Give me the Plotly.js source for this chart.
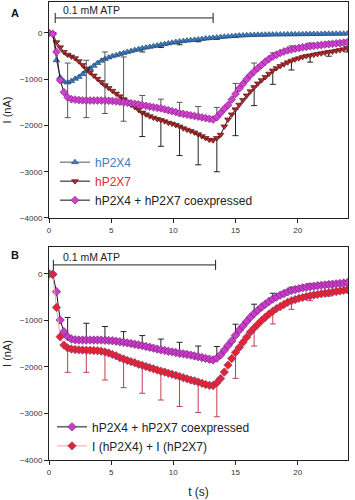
<!DOCTYPE html>
<html><head><meta charset="utf-8">
<script src="https://cdn.plot.ly/plotly-3.0.1.min.js"></script>
<style>html,body{margin:0;padding:0;background:#fff}#chart{width:355px;height:500px}</style>
</head><body><div id="chart"></div>
<script>
// time base (s)
const t = [0,0.3,0.6,0.9,1.2,1.5,1.8,2.1,2.4,2.7,3.0,3.3,3.6,3.9,4.2,4.5,4.8,5.1,5.4,5.7,6.0,6.3,6.6,6.9,7.2,7.5,7.8,8.1,8.4,8.7,9.0,9.3,9.6,9.9,10.2,10.5,10.8,11.1,11.4,11.7,12.0,12.3,12.6,12.9,13.2,13.5,13.8,14.1,14.4,14.7,15.0,15.3,15.6,15.9,16.2,16.5,16.8,17.1,17.4,17.7,18.0,18.3,18.6,18.9,19.2,19.5,19.8,20.1,20.4,20.7,21.0,21.3,21.6,21.9,22.2,22.5,22.8,23.1,23.4,23.7,24.0];

// Panel A
const aP2X4 = [0,-10,-590,-960,-1050,-1070,-1040,-990,-950,-890,-830,-770,-710,-650,-600,-560,-530,-500,-480,-455,-435,-410,-390,-370,-350,-330,-315,-300,-285,-270,-255,-240,-225,-210,-195,-185,-175,-165,-155,-148,-140,-130,-120,-112,-104,-96,-88,-80,-74,-68,-62,-57,-52,-48,-44,-42,-40,-38,-36,-35,-34,-32,-31,-30,-29,-28,-27,-26,-25,-24,-23,-22,-21,-20,-19,-18,-17,-16,-15,-14,-13];
const aP2X7 = [0,-20,-200,-310,-410,-470,-510,-545,-610,-690,-770,-850,-920,-990,-1060,-1130,-1190,-1250,-1310,-1370,-1430,-1490,-1550,-1600,-1660,-1720,-1760,-1800,-1830,-1860,-1880,-1910,-1940,-1960,-1990,-2020,-2060,-2090,-2120,-2150,-2190,-2230,-2270,-2310,-2320,-2270,-2200,-2020,-1870,-1760,-1650,-1550,-1450,-1350,-1260,-1170,-1090,-1020,-950,-880,-810,-760,-715,-675,-635,-600,-570,-545,-520,-500,-485,-470,-455,-440,-425,-412,-400,-385,-370,-350,-325];
const aCoex = [0,-20,-410,-1020,-1280,-1390,-1430,-1440,-1450,-1455,-1460,-1460,-1460,-1460,-1460,-1460,-1465,-1470,-1478,-1488,-1498,-1508,-1520,-1532,-1545,-1560,-1575,-1590,-1605,-1618,-1630,-1650,-1670,-1690,-1710,-1735,-1750,-1765,-1780,-1795,-1810,-1825,-1840,-1855,-1870,-1820,-1730,-1640,-1560,-1440,-1320,-1200,-1100,-1000,-910,-830,-760,-690,-620,-560,-510,-470,-430,-400,-375,-355,-340,-325,-310,-298,-288,-278,-268,-260,-250,-242,-234,-226,-218,-210,-200];

// error bars (SEM) at these times
const barT = [1.5,3,4.5,6,7.5,9,10.5,12,13.5,15,16.5,18,19.5,21,22.5,24];
const aCoexErrPlus  = [740,870,1050,980,210,200,235,220,210,230,180,80,75,70,45,40];
const aCoexErrMinus = [440,370,280,410,0,0,0,0,0,0,0,0,0,0,0,0];
const aP2X7ErrMinus = [NaN,NaN,NaN,NaN,520,570,630,660,730,570,400,300,200,145,90,85];
const aP2X4ErrMinus = [NaN,NaN,NaN,NaN,80,60,70,50,40,30,20,15,12,10,10,10];

// Panel B
const bCoex = [0,-5,-380,-990,-1240,-1350,-1400,-1415,-1420,-1420,-1420,-1420,-1420,-1420,-1422,-1426,-1430,-1436,-1445,-1457,-1468,-1482,-1497,-1512,-1527,-1540,-1560,-1578,-1595,-1615,-1632,-1648,-1662,-1675,-1690,-1705,-1718,-1730,-1745,-1762,-1780,-1798,-1815,-1832,-1848,-1810,-1740,-1640,-1540,-1440,-1320,-1210,-1120,-1020,-930,-850,-780,-710,-650,-590,-540,-495,-455,-420,-385,-355,-335,-315,-298,-285,-273,-263,-253,-244,-236,-228,-220,-212,-204,-196,-188];
const bSum = [0,-10,-720,-1350,-1530,-1590,-1615,-1625,-1632,-1636,-1640,-1642,-1645,-1650,-1660,-1675,-1700,-1730,-1760,-1800,-1830,-1860,-1885,-1910,-1940,-1965,-1990,-2015,-2040,-2065,-2090,-2110,-2135,-2155,-2180,-2205,-2230,-2255,-2280,-2300,-2325,-2350,-2375,-2395,-2400,-2340,-2250,-2110,-1960,-1820,-1690,-1580,-1470,-1360,-1250,-1160,-1080,-1000,-930,-860,-800,-745,-700,-655,-610,-575,-550,-525,-505,-485,-468,-453,-440,-427,-415,-402,-390,-378,-365,-352,-340];
const bCoexErrPlus = [415,360,296,228,215,232,235,230,250,240,200,125,70,58,48,38];
const bSumErrMinus = [525,475,605,615,600,620,645,655,730,555,390,275,185,107,73,60];

const seriesNames = {
  a4: '<span style="color:#3d7cc0">hP2X4</span>',
  a7: '<span style="color:#e0283a">hP2X7</span>',
  aC: 'hP2X4 + hP2X7 coexpressed',
  bC: 'hP2X4 + hP2X7 coexpressed',
  bS: 'I (hP2X4) + I (hP2X7)'
};

function spread(vals) {
  return t.map(function (tt) {
    const k = barT.findIndex(function (b) { return Math.abs(b - tt) < 1e-6; });
    return k < 0 ? NaN : vals[k];
  });
}
const zeros = barT.map(function () { return 0; });

const FONT = 'Arial, "Liberation Sans", sans-serif';

const traces = [
  {x: t, y: aP2X4, xaxis: 'x', yaxis: 'y', mode: 'lines+markers', name: seriesNames.a4, legend: 'legend',
   line: {color: '#555', width: 1},
   marker: {symbol: 'triangle-up', size: 6, color: '#3d7cc0', line: {color: '#1d3f6a', width: 0.6}},
   error_y: {type: 'data', symmetric: false, array: spread(zeros), arrayminus: spread(aP2X4ErrMinus), color: '#222', thickness: 1, width: 3}},
  {x: t, y: aP2X7, xaxis: 'x', yaxis: 'y', mode: 'lines+markers', name: seriesNames.a7, legend: 'legend',
   line: {color: '#111', width: 1},
   marker: {symbol: 'triangle-down', size: 6, color: '#b0282a', line: {color: '#4a0c0c', width: 0.6}},
   error_y: {type: 'data', symmetric: false, array: spread(zeros), arrayminus: spread(aP2X7ErrMinus), color: '#222', thickness: 1, width: 3}},
  {x: t, y: aCoex, xaxis: 'x', yaxis: 'y', mode: 'lines+markers', name: seriesNames.aC, legend: 'legend',
   line: {color: '#111', width: 1},
   marker: {symbol: 'diamond', size: 6, color: '#d23fd2', line: {color: '#6a1a6a', width: 0.6}},
   error_y: {type: 'data', symmetric: false, array: spread(aCoexErrPlus), arrayminus: spread(aCoexErrMinus), color: '#555', thickness: 1, width: 3}},
  {x: t, y: bCoex, xaxis: 'x2', yaxis: 'y2', mode: 'lines+markers', name: seriesNames.bC, legend: 'legend2',
   line: {color: '#111', width: 1},
   marker: {symbol: 'diamond', size: 6.5, color: '#cc3acc', line: {color: '#5a1a5a', width: 0.6}},
   error_y: {type: 'data', symmetric: false, array: spread(bCoexErrPlus), arrayminus: spread(zeros), color: '#222', thickness: 1, width: 3}},
  {x: t, y: bSum, xaxis: 'x2', yaxis: 'y2', mode: 'lines+markers', name: seriesNames.bS, legend: 'legend2',
   line: {color: '#f2a4ac', width: 1},
   marker: {symbol: 'diamond', size: 6.5, color: '#e8232d', line: {color: '#6a3a8c', width: 0.6}},
   error_y: {type: 'data', symmetric: false, array: spread(zeros), arrayminus: spread(bSumErrMinus), color: '#c04050', thickness: 1, width: 3}}
];

const xCommon = {range: [0, 24.05], tickvals: [0,5,10,15,20], ticks: 'outside', ticklen: 4, tickcolor: '#222',
  showline: true, linecolor: '#222', linewidth: 1, mirror: true, showgrid: false, zeroline: false,
  tickfont: {family: FONT, size: 8, color: '#333'}};
const yCommon = {tickvals: [-4000,-3000,-2000,-1000,0], ticks: 'outside', ticklen: 4, tickcolor: '#222',
  showline: true, linecolor: '#222', linewidth: 1, mirror: true, showgrid: false, zeroline: false,
  tickfont: {family: FONT, size: 8, color: '#333'},
  title: {text: 'I (nA)', font: {family: FONT, size: 11, color: '#222'}, standoff: 6}};

const layout = {
  width: 355, height: 500,
  margin: {l: 49, r: 7, t: 2, b: 40},
  paper_bgcolor: '#fff', plot_bgcolor: '#fff',
  font: {family: FONT, color: '#222'},
  xaxis: Object.assign({}, xCommon, {anchor: 'y', domain: [0, 1]}),
  yaxis: Object.assign({}, yCommon, {domain: [0.5284, 1], range: [-4000, 670]}),
  xaxis2: Object.assign({}, xCommon, {anchor: 'y2', domain: [0, 1],
    title: {text: 't (s)', font: {family: FONT, size: 12, color: '#222'}, standoff: 12}}),
  yaxis2: Object.assign({}, yCommon, {domain: [0, 0.4651], range: [-4000, 580]}),
  legend: {x: 0.02, y: 0.682, xanchor: 'left', yanchor: 'top', bgcolor: 'rgba(0,0,0,0)',
    font: {family: FONT, size: 12, color: '#222'}, tracegroupgap: 0},
  legend2: {x: 0.01, y: 0.104, xanchor: 'left', yanchor: 'top', bgcolor: 'rgba(0,0,0,0)',
    font: {family: FONT, size: 12, color: '#222'}, tracegroupgap: 0},
  showlegend: true,
  shapes: [
    {type: 'line', xref: 'x', yref: 'y', x0: 0.5, x1: 13.2, y0: 325, y1: 325, line: {color: '#222', width: 1}},
    {type: 'line', xref: 'x', yref: 'y', x0: 0.5, x1: 0.5, y0: 215, y1: 435, line: {color: '#222', width: 1}},
    {type: 'line', xref: 'x', yref: 'y', x0: 13.2, x1: 13.2, y0: 215, y1: 435, line: {color: '#222', width: 1}},
    {type: 'line', xref: 'x2', yref: 'y2', x0: 0.35, x1: 13.4, y0: 194, y1: 194, line: {color: '#222', width: 1}},
    {type: 'line', xref: 'x2', yref: 'y2', x0: 0.35, x1: 0.35, y0: 84, y1: 304, line: {color: '#222', width: 1}},
    {type: 'line', xref: 'x2', yref: 'y2', x0: 13.4, x1: 13.4, y0: 84, y1: 304, line: {color: '#222', width: 1}}
  ],
  annotations: [
    {text: '0.1 mM ATP', xref: 'x', yref: 'y', x: 0.95, y: 330, xanchor: 'left', yanchor: 'bottom', showarrow: false,
     font: {family: FONT, size: 10.5, color: '#222'}},
    {text: '0.1 mM ATP', xref: 'x2', yref: 'y2', x: 1.0, y: 200, xanchor: 'left', yanchor: 'bottom', showarrow: false,
     font: {family: FONT, size: 10.5, color: '#222'}},
    {text: '<b>A</b>', xref: 'paper', yref: 'paper', x: -0.115, y: 0.976, xanchor: 'center', yanchor: 'middle', showarrow: false,
     font: {family: FONT, size: 11, color: '#111'}},
    {text: '<b>B</b>', xref: 'paper', yref: 'paper', x: -0.115, y: 0.4476, xanchor: 'center', yanchor: 'middle', showarrow: false,
     font: {family: FONT, size: 11, color: '#111'}}
  ]
};

Plotly.newPlot('chart', traces, layout, {displayModeBar: false, staticPlot: true});
</script>
</body></html>
